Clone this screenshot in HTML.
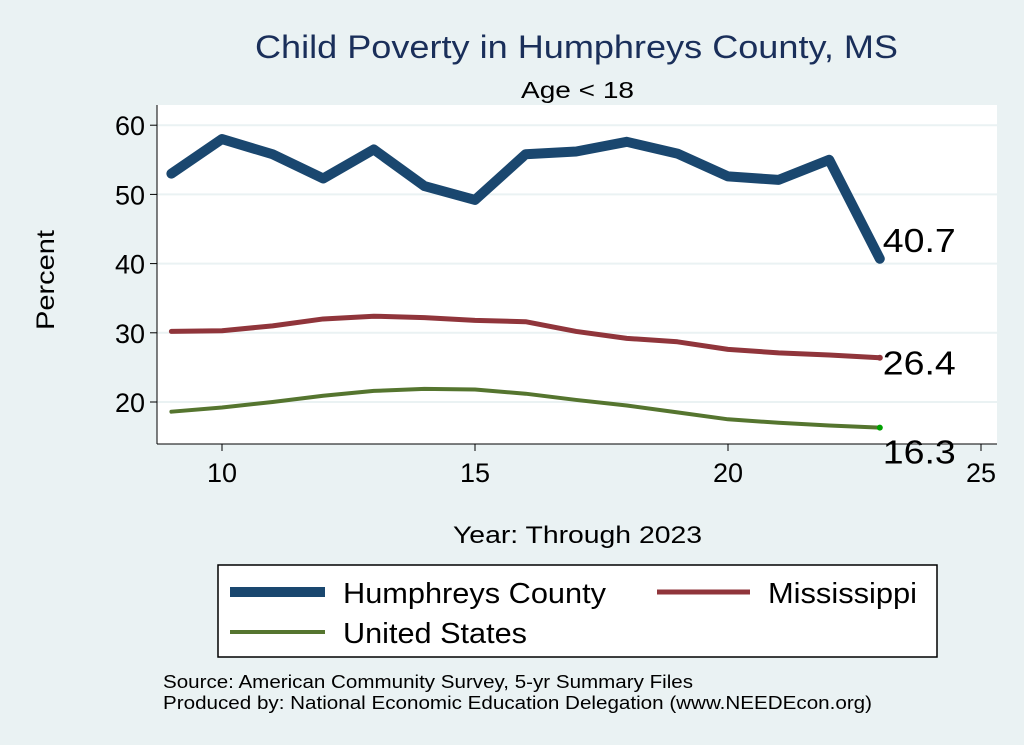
<!DOCTYPE html>
<html><head><meta charset="utf-8"><style>
body{margin:0;background:#eaf2f3;}
svg{display:block;font-family:"Liberation Sans",sans-serif;}
</style></head><body>
<svg id="chart" width="1024" height="745">
<rect x="0" y="0" width="1024" height="745" fill="#eaf2f3"/>
<rect x="157" y="105" width="840" height="339" fill="#ffffff"/>
<g id="grid"></g>
<g id="axes"></g>
<g id="series"></g>
<text x="255" y="58" textLength="643" lengthAdjust="spacingAndGlyphs" font-size="32" fill="#1a2f5a">Child Poverty in Humphreys County, MS</text>
<text x="521" y="98" textLength="113" lengthAdjust="spacingAndGlyphs" font-size="23" fill="#000">Age &lt; 18</text>
<text transform="translate(54,280) rotate(-90)" text-anchor="middle" textLength="100" lengthAdjust="spacingAndGlyphs" font-size="25" fill="#000">Percent</text>
<text x="453" y="543" textLength="249" lengthAdjust="spacingAndGlyphs" font-size="24" fill="#000">Year: Through 2023</text>
<g>
<rect x="218" y="565" width="719" height="92" fill="#fff" stroke="#000" stroke-width="1.5"/>
<line x1="230" y1="592" x2="325" y2="592" stroke="#1a476f" stroke-width="10"/>
<text x="343" y="603" textLength="263" lengthAdjust="spacingAndGlyphs" font-size="29">Humphreys County</text>
<line x1="657" y1="592" x2="750" y2="592" stroke="#90353b" stroke-width="5"/>
<text x="768" y="603" textLength="149" lengthAdjust="spacingAndGlyphs" font-size="29">Mississippi</text>
<line x1="230" y1="632" x2="325" y2="632" stroke="#55752f" stroke-width="4"/>
<text x="343" y="643" textLength="184" lengthAdjust="spacingAndGlyphs" font-size="29">United States</text>
</g>
<text x="163" y="688" textLength="530" lengthAdjust="spacingAndGlyphs" font-size="18">Source: American Community Survey, 5-yr Summary Files</text>
<text x="163" y="709" textLength="709" lengthAdjust="spacingAndGlyphs" font-size="18">Produced by: National Economic Education Delegation (www.NEEDEcon.org)</text>
</svg>
<script>
const years=[9,10,11,12,13,14,15,16,17,18,19,20,21,22,23];
const humphreys=[53,58,55.8,52.3,56.5,51.2,49.2,55.8,56.2,57.6,55.9,52.6,52.1,55,40.7];
const mississippi=[30.2,30.3,31,32,32.4,32.2,31.8,31.6,30.2,29.2,28.7,27.6,27.1,26.8,26.4];
const unitedStates=[18.6,19.2,20,20.9,21.6,21.9,21.8,21.2,20.3,19.5,18.5,17.5,17.0,16.6,16.3];
const xTicks=[10,15,20,25];
const yTicks=[20,30,40,50,60];
const NS='http://www.w3.org/2000/svg';
function xs(v){return 222+(v-10)*50.6;}
function ys(v){return 402-(v-20)*6.92;}
function mk(tag,attrs,parent){const e=document.createElementNS(NS,tag);for(const k in attrs)e.setAttribute(k,attrs[k]);document.getElementById(parent).appendChild(e);return e;}
yTicks.forEach(t=>{
 let g=mk('line',{x1:157,x2:997,y1:ys(t),y2:ys(t),stroke:'#eaf2f3','stroke-width':2},'grid');
 
 
 let k=mk('line',{x1:150,x2:157,y1:ys(t),y2:ys(t),stroke:'#000','stroke-width':1},'axes');
 
 
 let l=mk('text',{x:145,y:ys(t)+10,'text-anchor':'end','font-size':27},'axes');l.textContent=t;
 
 
});
xTicks.forEach(t=>{
 let k=mk('line',{x1:xs(t),x2:xs(t),y1:444,y2:451,stroke:'#000','stroke-width':1},'axes');
 
 
 let l=mk('text',{x:xs(t),y:482,'text-anchor':'middle','font-size':27},'axes');l.textContent=t;
 
 
});
let ax=mk('line',{x1:157,x2:157,y1:105,y2:444,stroke:'#000','stroke-width':1},'axes');


let bx=mk('line',{x1:157,x2:997,y1:444,y2:444,stroke:'#000','stroke-width':1},'axes');


function series(vals,color,w,name,labelDy,endColor){
 const pts=years.map((y,i)=>xs(y)+','+ys(vals[i])).join(' ');
 let p=mk('polyline',{points:pts,fill:'none',stroke:color,'stroke-width':w,'stroke-linejoin':'round','stroke-linecap':'round'},'series');
 
 
 const last=vals[vals.length-1],lx=xs(years[years.length-1]);
 let d=mk('circle',{cx:lx,cy:ys(last),r:3,fill:endColor},'series');
 
 
 let t=mk('text',{x:lx+3,y:ys(last)+labelDy,'font-size':33,textLength:73,lengthAdjust:'spacingAndGlyphs'},'series');t.textContent=last.toFixed(1);
 
 
}
series(humphreys,'#1a476f',10,'humphreys',-7,'#1a476f');
series(mississippi,'#90353b',5,'mississippi',17,'#90353b');
series(unitedStates,'#55752f',4,'united-states',36,'#00a000');
</script>
</body></html>
